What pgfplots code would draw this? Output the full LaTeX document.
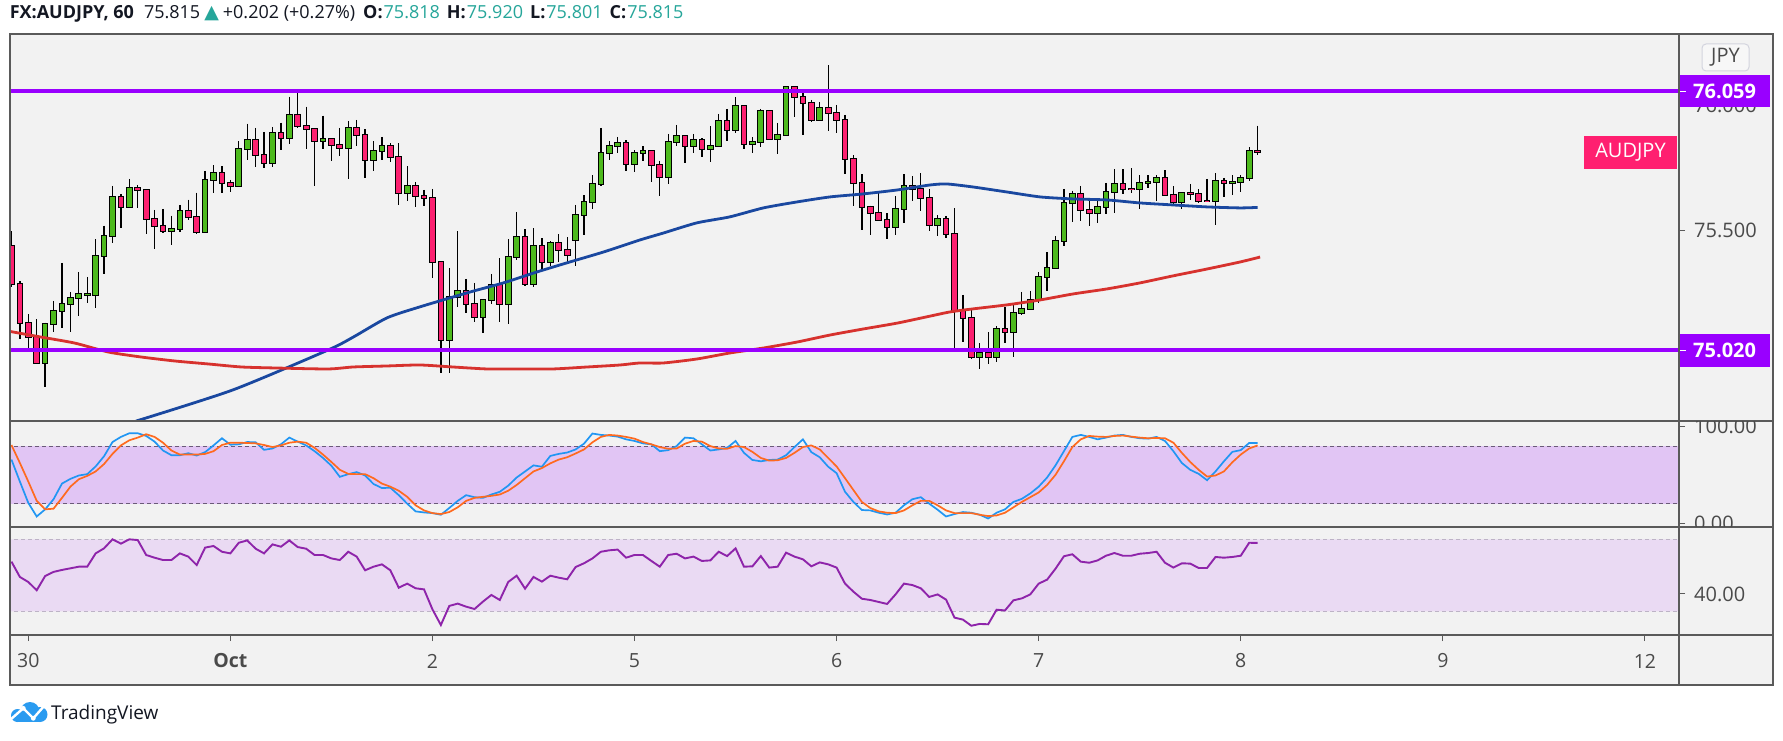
\documentclass[border=0pt]{standalone}
\usepackage{pgfplots}
\pgfplotsset{compat=1.18}
\usepackage{pgfplotstable}
\usepackage{fontspec}
\setmainfont{Open Sans}
\newfontfamily\dejavu{DejaVu Sans}

\definecolor{bg}{HTML}{F2F2F2}
\definecolor{frame}{HTML}{5A5A5A}
\definecolor{cgreen}{HTML}{4DBA1D}
\definecolor{cred}{HTML}{FC2070}
\definecolor{lvl}{HTML}{9900FF}
\definecolor{mablue}{HTML}{1A48A0}
\definecolor{mared}{HTML}{D7322E}
\definecolor{stk}{HTML}{2196F3}
\definecolor{std}{HTML}{FF6A1F}
\definecolor{rsic}{HTML}{8E24AA}
\definecolor{bandS}{HTML}{E1C5F4}
\definecolor{bandR}{HTML}{EADAF3}
\definecolor{dashS}{HTML}{6A5A78}
\definecolor{dashR}{HTML}{BDB3C6}
\definecolor{teal}{HTML}{26A69A}
\definecolor{txt}{HTML}{131722}
\definecolor{scl}{HTML}{4A4A4A}
\definecolor{pinklbl}{HTML}{FF1F70}
\definecolor{jpyb}{HTML}{D3D4DE}
\definecolor{tvblue}{HTML}{2A9BF0}

\pgfplotstableread{
h O H L C
-2 75.437 75.497 75.271 75.284
-1 75.284 75.297 75.063 75.127
0 75.127 75.164 75.027 75.071
1 75.071 75.144 74.967 74.967
2 74.967 75.130 74.873 75.123
3 75.123 75.217 75.094 75.177
4 75.177 75.370 75.107 75.203
5 75.203 75.253 75.091 75.227
6 75.227 75.333 75.158 75.243
7 75.239 75.313 75.207 75.243
8 75.239 75.465 75.190 75.397
9 75.397 75.519 75.324 75.477
10 75.477 75.678 75.448 75.632
11 75.632 75.646 75.511 75.595
12 75.595 75.706 75.591 75.669
13 75.669 75.682 75.591 75.661
14 75.661 75.661 75.484 75.544
15 75.544 75.582 75.427 75.518
16 75.518 75.586 75.488 75.496
17 75.496 75.559 75.443 75.504
18 75.504 75.602 75.492 75.576
19 75.576 75.623 75.540 75.552
20 75.552 75.651 75.485 75.492
21 75.492 75.739 75.488 75.702
22 75.702 75.762 75.651 75.729
23 75.729 75.758 75.651 75.689
24 75.689 75.702 75.654 75.677
25 75.677 75.858 75.673 75.825
26 75.825 75.928 75.781 75.861
27 75.861 75.911 75.755 75.801
28 75.801 75.895 75.750 75.769
29 75.769 75.915 75.755 75.889
30 75.889 75.932 75.824 75.869
31 75.869 76.036 75.845 75.963
32 75.963 76.052 75.909 75.917
33 75.917 75.996 75.828 75.905
34 75.905 75.908 75.677 75.857
35 75.857 75.960 75.828 75.866
36 75.865 75.865 75.780 75.841
37 75.841 75.911 75.798 75.829
38 75.829 75.939 75.705 75.909
39 75.909 75.943 75.840 75.881
40 75.881 75.905 75.711 75.781
41 75.781 75.858 75.739 75.818
42 75.818 75.875 75.784 75.837
43 75.837 75.850 75.776 75.793
44 75.793 75.850 75.603 75.649
45 75.649 75.758 75.619 75.677
46 75.677 75.694 75.595 75.637
47 75.637 75.662 75.599 75.628
48 75.628 75.666 75.310 75.372
49 75.372 75.377 74.929 75.060
50 75.060 75.349 74.929 75.231
51 75.231 75.497 75.194 75.255
52 75.255 75.305 75.170 75.205
53 75.205 75.289 75.134 75.151
54 75.151 75.225 75.090 75.219
55 75.219 75.325 75.203 75.279
56 75.279 75.389 75.134 75.203
57 75.203 75.465 75.126 75.392
58 75.392 75.574 75.382 75.472
59 75.472 75.505 75.278 75.284
60 75.284 75.509 75.274 75.436
61 75.436 75.469 75.345 75.372
62 75.372 75.456 75.358 75.448
63 75.448 75.485 75.372 75.420
64 75.420 75.473 75.369 75.400
65 75.460 75.602 75.358 75.560
66 75.560 75.641 75.483 75.612
67 75.612 75.721 75.587 75.685
68 75.685 75.911 75.679 75.809
69 75.809 75.858 75.784 75.837
70 75.837 75.875 75.809 75.849
71 75.849 75.861 75.739 75.765
72 75.765 75.822 75.735 75.809
73 75.809 75.838 75.780 75.817
74 75.817 75.817 75.695 75.761
75 75.761 75.780 75.639 75.713
76 75.713 75.887 75.687 75.853
77 75.853 75.923 75.837 75.877
78 75.877 75.877 75.772 75.837
79 75.837 75.887 75.812 75.861
80 75.861 75.869 75.796 75.825
81 75.825 75.919 75.776 75.837
82 75.837 75.967 75.833 75.937
83 75.937 75.987 75.860 75.901
84 75.901 76.035 75.889 75.997
85 75.997 75.997 75.828 75.845
86 75.845 75.874 75.812 75.853
87 75.853 75.987 75.833 75.977
88 75.977 75.977 75.862 75.865
89 75.865 75.931 75.808 75.881
90 75.881 76.074 75.881 76.074
91 76.074 76.079 75.953 76.034
92 76.034 76.051 75.881 76.010
93 76.010 76.023 75.933 75.941
94 75.941 76.015 75.941 75.989
95 75.989 76.163 75.900 75.969
96 75.969 76.003 75.892 75.941
97 75.941 75.963 75.727 75.785
98 75.785 75.801 75.599 75.689
99 75.689 75.725 75.503 75.592
100 75.592 75.599 75.483 75.568
101 75.568 75.654 75.540 75.540
102 75.540 75.568 75.464 75.512
103 75.512 75.638 75.480 75.584
104 75.584 75.725 75.531 75.677
105 75.677 75.717 75.619 75.665
106 75.665 75.729 75.579 75.628
107 75.628 75.666 75.499 75.520
108 75.520 75.560 75.476 75.544
109 75.544 75.558 75.468 75.484
110 75.484 75.588 75.023 75.179
111 75.179 75.241 75.054 75.147
112 75.147 75.181 74.983 74.991
113 74.991 75.047 74.943 75.007
114 75.007 75.091 74.963 74.991
115 74.991 75.116 74.971 75.103
116 75.103 75.194 75.047 75.091
117 75.091 75.205 74.993 75.167
118 75.167 75.253 75.162 75.183
119 75.183 75.257 75.181 75.219
120 75.219 75.332 75.210 75.312
121 75.312 75.413 75.258 75.348
122 75.348 75.477 75.348 75.456
123 75.456 75.666 75.439 75.608
124 75.608 75.659 75.535 75.645
125 75.645 75.678 75.539 75.580
126 75.580 75.620 75.519 75.568
127 75.568 75.628 75.531 75.592
128 75.592 75.690 75.566 75.653
129 75.653 75.746 75.568 75.685
130 75.685 75.746 75.645 75.665
131 75.665 75.750 75.649 75.664
132 75.665 75.721 75.587 75.689
133 75.689 75.722 75.671 75.693
134 75.693 75.721 75.619 75.709
135 75.709 75.742 75.637 75.641
136 75.641 75.677 75.599 75.612
137 75.612 75.649 75.587 75.649
138 75.649 75.686 75.620 75.645
139 75.645 75.665 75.608 75.616
140 75.617 75.706 75.616 75.616
141 75.616 75.730 75.523 75.697
142 75.697 75.710 75.635 75.689
143 75.689 75.721 75.643 75.693
144 75.693 75.721 75.655 75.709
145 75.709 75.833 75.697 75.817
146 75.818 75.920 75.801 75.815
}\candles

\pgfplotstableread{
h p
12.8 74.735
24.3 74.860
35.6 75.020
38.6 75.072
42.6 75.149
46.5 75.193
52.5 75.253
56.4 75.289
60.4 75.333
64.3 75.373
68.3 75.413
72.6 75.461
75.4 75.489
79.4 75.530
83.3 75.554
87.3 75.590
91.3 75.614
95.2 75.634
99.1 75.646
103.2 75.662
107.1 75.682
109.1 75.686
112.2 75.674
116.2 75.654
120.2 75.634
124.1 75.626
128.1 75.622
132.0 75.610
135.9 75.602
140.0 75.594
143.9 75.590
146.0 75.592
}\mablueT

\pgfplotstableread{
h p
-2.4 75.096
1.5 75.072
5.5 75.048
9.5 75.012
13.4 74.992
17.4 74.976
21.4 74.964
25.3 74.952
29.3 74.948
35.6 74.944
38.6 74.952
42.6 74.956
46.5 74.960
50.4 74.952
54.5 74.944
58.4 74.944
62.3 74.944
66.4 74.952
70.3 74.960
72.6 74.968
75.4 74.968
79.4 74.984
83.3 75.008
87.3 75.028
91.3 75.052
95.2 75.080
99.1 75.104
103.2 75.128
107.1 75.156
109.5 75.173
112.2 75.185
116.2 75.201
120.2 75.221
124.1 75.245
128.1 75.265
132.0 75.289
135.9 75.317
140.0 75.345
143.9 75.373
146.3 75.393
}\maredT

\pgfplotstableread{
h k d r
-2 66.0 81.1 57.6
-1 43.2 62.5 49.1
0 21.1 43.2 46.3
1 7.0 23.2 41.7
2 14.4 14.4 49.6
3 24.9 15.1 51.9
4 41.1 26.3 53.0
5 46.0 37.9 53.9
6 49.5 45.6 54.8
7 50.9 49.1 54.8
8 58.9 53.7 62.2
9 69.5 61.4 65.0
10 84.2 71.9 70.0
11 89.5 80.7 67.6
12 93.3 86.0 70.0
13 93.3 88.8 69.6
14 90.5 92.3 61.3
15 84.6 89.5 59.8
16 75.4 83.5 58.5
17 70.5 75.4 58.5
18 70.5 71.2 62.2
19 72.6 71.2 60.4
20 70.2 71.2 55.7
21 73.7 71.9 65.4
22 80.7 74.7 66.3
23 88.1 81.1 63.1
24 81.4 83.5 62.2
25 81.8 83.5 68.1
26 84.2 83.2 69.4
27 83.9 82.8 64.8
28 76.1 81.1 62.2
29 77.5 79.0 67.2
30 81.8 80.7 65.9
31 88.8 83.5 69.4
32 84.6 84.6 65.7
33 80.7 83.5 64.8
34 74.7 78.2 61.3
35 67.7 71.2 61.3
36 59.6 63.5 59.4
37 48.1 55.4 58.5
38 50.9 51.2 63.1
39 53.0 50.9 60.4
40 49.5 50.9 52.8
41 40.7 46.7 54.8
42 36.5 41.1 56.1
43 36.8 37.9 52.8
44 29.1 33.7 43.1
45 20.3 27.4 45.4
46 12.3 18.6 42.8
47 11.2 13.3 42.2
48 10.5 10.5 31.1
49 8.8 9.5 22.4
50 15.8 11.6 33.0
51 23.2 16.5 34.3
52 29.1 23.2 32.6
53 27.0 26.3 31.3
54 26.3 27.4 35.4
55 29.8 28.4 39.1
56 32.6 29.8 36.3
57 39.0 33.7 46.3
58 47.4 39.7 49.8
59 53.7 46.7 42.6
60 60.0 53.7 49.1
61 58.6 57.2 46.5
62 69.8 62.1 49.8
63 71.9 66.0 48.7
64 73.3 68.4 47.8
65 76.5 72.3 54.6
66 82.5 76.5 56.7
67 93.0 83.9 59.4
68 91.6 89.5 63.1
69 90.9 91.6 63.9
70 89.8 90.9 64.3
71 87.0 89.5 59.8
72 85.3 87.7 61.3
73 82.8 84.2 61.3
74 81.8 81.8 58.0
75 74.7 79.0 54.8
76 75.8 77.2 61.3
77 80.0 77.5 62.0
78 88.8 82.5 59.4
79 88.1 85.3 60.4
80 81.8 84.6 58.0
81 75.4 80.0 58.3
82 76.5 77.5 63.1
83 78.2 77.2 60.7
84 85.3 80.0 65.0
85 73.0 79.0 54.8
86 65.6 74.0 55.0
87 64.2 67.7 60.7
88 65.6 64.9 54.3
89 66.0 65.3 54.8
90 70.5 67.7 62.6
91 79.0 73.0 60.4
92 87.0 79.0 58.9
93 73.7 80.7 55.0
94 68.4 76.5 57.2
95 58.6 67.7 56.1
96 51.9 58.9 54.3
97 32.6 46.7 45.4
98 22.1 34.4 40.9
99 13.7 22.1 37.0
100 13.3 15.8 36.3
101 10.9 12.3 35.2
102 9.1 10.9 34.1
103 10.9 10.5 39.4
104 18.6 13.3 45.4
105 24.9 18.6 44.6
106 27.0 23.2 42.8
107 20.3 23.2 38.0
108 14.0 18.6 39.4
109 7.0 13.3 36.5
110 9.5 10.5 26.5
111 11.6 10.5 25.4
112 10.9 10.5 22.0
113 8.8 8.8 23.0
114 4.9 7.4 22.8
115 10.9 8.1 30.9
116 14.4 10.9 30.5
117 22.1 16.5 36.1
118 25.3 22.1 37.2
119 30.9 27.0 39.4
120 37.9 31.9 45.4
121 47.4 39.7 47.6
122 60.0 50.2 53.7
123 74.7 64.2 60.6
124 89.5 79.0 61.7
125 91.6 87.0 57.6
126 89.5 90.5 57.0
127 87.0 89.8 58.3
128 88.8 89.5 60.9
129 90.9 90.5 62.4
130 91.6 90.9 60.9
131 89.5 89.8 60.9
132 88.1 88.8 62.0
133 87.7 88.1 62.4
134 89.5 88.4 63.1
135 85.3 88.1 57.0
136 74.7 83.5 54.3
137 62.5 73.0 56.7
138 55.4 63.5 56.5
139 51.2 55.4 54.1
140 44.6 48.4 54.1
141 53.7 49.5 60.2
142 64.2 53.7 59.8
143 74.0 63.2 60.2
144 75.8 71.2 60.9
145 83.2 77.5 68.1
146 83.2 80.7 68.0
}\osc

\pgfplotsset{
  panel/.style={
    anchor=south west, scale only axis, width=1669pt,
    xmin=-2.173, xmax=196.05,
    axis line style={draw=none},
    tick align=outside, major tick length=6pt,
    tick style={draw=frame, line width=1pt},
    ytick pos=right, yticklabels={}, xticklabels={},
  },
  candle/.style={draw=none, mark=none, forget plot},
}

\begin{document}
\begin{tikzpicture}[x=1pt,y=1pt]
\useasboundingbox (0,0) rectangle (1783,740);
\fill[white] (0,0) rectangle (1783,740);
\fill[bg] (10,55) rectangle (1773,706);

% ---------- price panel ----------
\begin{axis}[panel, at={(10pt,319pt)}, height=387pt,
  ymin=74.7353, ymax=76.2876, xtick=\empty, ytick={75.5,76}]
  % wicks
  \addplot[candle,
    error bars/.cd, y dir=minus, y explicit, error mark=none,
    error bar style={draw=black, line width=1.3pt}]
    table[x=h, y=H, y error minus expr={\thisrow{H}-\thisrow{L}}] {\candles};
  % body outline
  \addplot[candle,
    error bars/.cd, y dir=minus, y explicit, error mark=none,
    error bar style={draw=black, line width=6.7pt}]
    table[x=h, y expr={max(\thisrow{O},\thisrow{C})+0.004},
      y error minus expr={abs(\thisrow{C}-\thisrow{O})+0.008}] {\candles};
  % rising bodies
  \addplot[candle,
    restrict expr to domain={\thisrow{C}-\thisrow{O}}{0.0005:10},
    error bars/.cd, y dir=minus, y explicit, error mark=none,
    error bar style={draw=cgreen, line width=4.7pt}]
    table[x=h, y=C, y error minus expr={\thisrow{C}-\thisrow{O}}] {\candles};
  % falling bodies
  \addplot[candle,
    restrict expr to domain={\thisrow{O}-\thisrow{C}}{0.0005:10},
    error bars/.cd, y dir=minus, y explicit, error mark=none,
    error bar style={draw=cred, line width=4.7pt}]
    table[x=h, y=O, y error minus expr={\thisrow{O}-\thisrow{C}}] {\candles};
  % moving averages
  \addplot[mablue, line width=2.8pt, smooth, tension=0.4, forget plot] table[x=h,y=p] {\mablueT};
  \addplot[mared, line width=2.8pt, smooth, tension=0.4, forget plot] table[x=h,y=p] {\maredT};
  % horizontal levels
  \addplot[lvl, line width=3.3pt, forget plot] coordinates {(-5,76.059) (200,76.059)};
  \addplot[lvl, line width=3.3pt, forget plot] coordinates {(-5,75.020) (200,75.020)};
\end{axis}

% ---------- stochastic RSI panel ----------
\begin{axis}[panel, at={(10pt,213pt)}, height=106pt,
  ymin=-3.9, ymax=106.0, xtick=\empty, ytick={0,100}]
  \addplot[draw=none, fill=bandS, forget plot] coordinates {(-5,20) (200,20) (200,80) (-5,80) (-5,20)};
  \addplot[dashS, line width=1pt, dash pattern=on 4pt off 3pt, forget plot] coordinates {(-5,80) (200,80)};
  \addplot[dashS, line width=1pt, dash pattern=on 4pt off 3pt, forget plot] coordinates {(-5,20) (200,20)};
  \addplot[stk, line width=1.7pt, forget plot] table[x=h,y=k] {\osc};
  \addplot[std, line width=1.7pt, forget plot] table[x=h,y=d] {\osc};
\end{axis}

% ---------- RSI panel ----------
\begin{axis}[panel, at={(10pt,105pt)}, height=108pt,
  ymin=16.85, ymax=76.85, ytick={40},
  xtick={0,24,48,72,96,120,144,168,192}, xtick pos=bottom]
  \addplot[draw=none, fill=bandR, forget plot] coordinates {(-5,30) (200,30) (200,70) (-5,70) (-5,30)};
  \addplot[dashR, line width=1pt, dash pattern=on 4pt off 3pt, forget plot] coordinates {(-5,70) (200,70)};
  \addplot[dashR, line width=1pt, dash pattern=on 4pt off 3pt, forget plot] coordinates {(-5,30) (200,30)};
  \addplot[rsic, line width=1.9pt, forget plot] table[x=h,y=r] {\osc};
\end{axis}

% ---------- frame ----------
\draw[frame, line width=1.3pt] (10,319) -- (1773,319);
\draw[frame, line width=1.3pt] (10,213) -- (1773,213);
\draw[frame, line width=1.3pt] (10,105) -- (1773,105);
\draw[frame, line width=1.3pt] (1679,55) -- (1679,706);
\draw[frame, line width=2.2pt] (10,55) rectangle (1773,706);

% ---------- price scale ----------
\tikzset{sclab/.style={anchor=west, inner sep=0pt, text=scl, font=\fontsize{20}{24}\selectfont}}
\node[sclab] at (1694,634.3) {76.000};
\node[sclab] at (1694,509.6) {75.500};
\begin{scope}
  \clip (1680.5,213.7) rectangle (1772,318.3);
  \node[sclab] at (1694,313.5) {100.00};
  \node[sclab] at (1694,216.5) {0.00};
\end{scope}
\node[sclab] at (1694,146) {40.00};

\node[fill=lvl, text=white, inner sep=0pt, minimum width=90pt, minimum height=32pt,
  font=\bfseries\fontsize{20}{24}\selectfont] at (1724.6,648.7) {76.059};
\draw[white, line width=1pt] (1680,648.7) -- (1686,648.7);
\node[fill=lvl, text=white, inner sep=0pt, minimum width=90pt, minimum height=32.7pt,
  font=\bfseries\fontsize{20}{24}\selectfont] at (1724.6,389.7) {75.020};
\draw[white, line width=1pt] (1680,389.7) -- (1686,389.7);
\node[fill=pinklbl, text=white, inner sep=0pt, minimum width=93pt, minimum height=33pt,
  font=\fontsize{20}{24}\selectfont] at (1630.5,587.5) {AUDJPY};
\node[draw=jpyb, line width=1pt, fill=bg!60!white, rounded corners=4pt, inner sep=0pt,
  minimum width=47pt, minimum height=27pt, text=scl, font=\fontsize{20}{24}\selectfont]
  at (1725.5,682.5) {JPY};

% ---------- time labels ----------
\tikzset{tlab/.style={anchor=center, inner sep=0pt, text=scl, font=\fontsize{19.5}{23}\selectfont}}
\node[tlab] at (28.3,79) {30};
\node[tlab, font=\bfseries\fontsize{19.5}{23}\selectfont] at (230.4,79) {Oct};
\node[tlab] at (432.5,79) {2};
\node[tlab] at (634.5,79) {5};
\node[tlab] at (836.6,79) {6};
\node[tlab] at (1038.7,79) {7};
\node[tlab] at (1240.8,79) {8};
\node[tlab] at (1442.9,79) {9};
\node[tlab] at (1644.9,79) {12};

% ---------- header ----------
\node[anchor=base west, inner sep=0pt, text=txt, font=\fontsize{18}{22}\selectfont] at (9.6,721)
  {\textbf{FX:AUDJPY, 60}\hspace{10pt}75.815\hspace{4pt}{\dejavu\fontsize{19}{22}\selectfont\color{teal}▲}\hspace{4pt}+0.202 (+0.27\%)\hspace{8pt}\textbf{O:}\hspace{1pt}{\color{teal}75.818}\hspace{7pt}\textbf{H:}\hspace{1pt}{\color{teal}75.920}\hspace{7pt}\textbf{L:}\hspace{1pt}{\color{teal}75.801}\hspace{7pt}\textbf{C:}\hspace{1pt}{\color{teal}75.815}};

% ---------- logo ----------
\fill[tvblue] (30,28.5) circle (9.5);
\fill[tvblue] (17.5,24.5) circle (6.5);
\fill[tvblue] (40,25.5) circle (7.5);
\fill[tvblue] (17.5,18) rectangle (40,26);
\draw[white, line width=2.4pt, line join=round] (10,20) -- (23.3,31.7) -- (33.3,21.7) -- (45,35);
\fill[white] (23.3,31.7) circle (2.4);
\fill[white] (33.3,21.7) circle (2.4);
\node[anchor=base west, inner sep=0pt, text=txt, font=\fontsize{19}{23}\selectfont] at (51,20.7) {TradingView};
\end{tikzpicture}
\end{document}
